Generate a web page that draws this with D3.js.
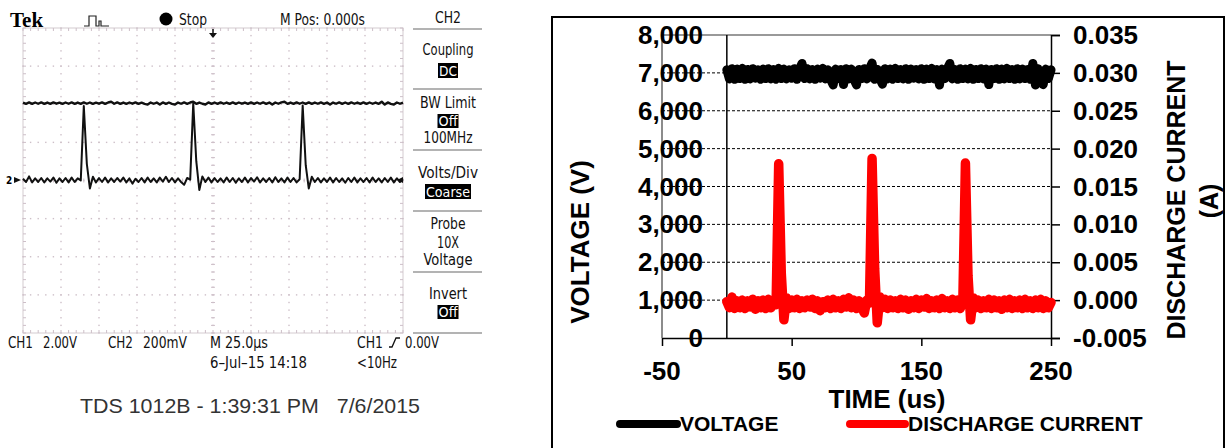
<!DOCTYPE html>
<html><head><meta charset="utf-8">
<script src="https://cdn.jsdelivr.net/npm/d3@7"></script>
<style>
html,body{margin:0;padding:0;background:#fff;}
svg{display:block;}
</style></head><body>
<svg id="c" width="1228" height="448"></svg>
<script>
// ---------------- DATA ----------------
const timeUs = d3.range(0, 251, 2); // sample times (us)
const voltage = [7080,6840,7110,6830,7100,6850,7120,6830,7090,6840,7110,6860,7080,6830,7100,6850,7110,6840,7090,6830,
7120,6850,7100,6840,7080,6860,7110,6830,7100,7250,6850,7110,6840,7090,6830,7100,6860,7120,6840,7080,
6830,6680,7100,6850,7090,6690,7110,6840,7100,6830,6680,7090,6850,7110,6840,7100,7260,6830,7090,6850,
6700,7110,6840,7100,6830,7120,6850,7090,6840,7110,6830,7100,6860,7090,6840,7110,6830,7100,6850,7120,
6840,7090,6680,7100,6850,7110,7250,6840,7090,6830,7110,6850,7100,6840,7120,6830,7090,6850,7110,6840,
7100,6690,7090,6850,7110,6830,7100,6840,7120,6850,7090,6830,7110,6840,7100,6850,7090,6830,7250,6680,
7110,6840,6690,7100,6850,7080];
const current = [-0.0002,-0.0010,0.0004,-0.0011,-0.0001,-0.0010,0.0000,-0.0011,-0.0001,-0.0009,
0.0001,-0.0012,-0.0001,-0.0010,0.0000,-0.0011,0.0001,-0.0010,-0.0001,-0.0006,
0.0180,0.0035,-0.0026,0.0003,-0.0011,0.0000,-0.0010,0.0001,-0.0011,-0.0001,
-0.0010,0.0000,-0.0009,0.0001,-0.0011,-0.0001,-0.0014,-0.0002,-0.0010,0.0000,
-0.0011,0.0001,-0.0010,-0.0001,-0.0011,0.0001,-0.0009,0.0003,-0.0010,0.0000,
-0.0011,-0.0001,-0.0010,-0.0017,0.0000,-0.0004,0.0187,0.0042,-0.0030,0.0004,
-0.0010,0.0001,-0.0011,0.0000,-0.0010,-0.0001,-0.0011,0.0001,-0.0010,0.0000,
-0.0012,-0.0001,-0.0010,0.0001,-0.0011,0.0000,-0.0009,0.0002,-0.0011,-0.0001,
-0.0010,0.0000,-0.0011,0.0002,-0.0010,-0.0001,-0.0011,0.0001,-0.0010,0.0000,
-0.0011,-0.0003,0.0181,0.0032,-0.0026,0.0003,-0.0010,0.0000,-0.0011,-0.0001,
-0.0010,0.0001,-0.0011,0.0000,-0.0010,-0.0001,-0.0012,0.0000,-0.0010,0.0001,
-0.0011,-0.0001,-0.0010,0.0000,-0.0011,0.0001,-0.0010,-0.0001,-0.0011,0.0000,
-0.0010,0.0001,-0.0011,-0.0001,-0.0010,-0.0003];
const voltageTicks = [0,1000,2000,3000,4000,5000,6000,7000,8000];
const voltageTickLabels = ["0","1,000","2,000","3,000","4,000","5,000","6,000","7,000","8,000"];
const currentTicks = [-0.005,0,0.005,0.010,0.015,0.020,0.025,0.030,0.035];
const currentTickLabels = ["-0.005","0.000","0.005","0.010","0.015","0.020","0.025","0.030","0.035"];
const timeTicks = [-50,50,150,250];
const timeTickLabels = ["-50","50","150","250"];
const seriesNames = ["VOLTAGE","DISCHARGE CURRENT"];
const seriesColors = ["#000000","#ff0000"];

// ---------------- DRAW ----------------
const svg = d3.select("#c");
const pts = vals => vals.map((v,i)=>[timeUs[i], v]);

// ===== Oscilloscope panel =====
const scope = svg.append("g");
const sx = d3.scaleLinear().domain([0,250]).range([23,403]);
const sDiv = d3.scaleLinear().domain([0,8]).range([28,333]);
const sCh1 = d3.scaleLinear().domain([6000,8000]).range([108,98]);
const sCh2 = d3.scaleLinear().domain([-0.0005,0.0185]).range([180,104]);
const gridCol = "#cdbfc8";
const narrow = "'Liberation Sans Narrow','DejaVu Sans Condensed','Liberation Sans',Arial,sans-serif";

scope.append("rect").attr("x",23).attr("y",28).attr("width",380).attr("height",305)
  .attr("fill","none").attr("stroke","#d4cbd0").attr("stroke-width",1);
const dots=[];
for(let k=1;k<10;k++){ for(let j=0;j<=40;j++) dots.push([sx(k*25), sDiv(j/5)]); }
for(let m=1;m<8;m++){ for(let j=0;j<=50;j++) dots.push([sx(j*5), sDiv(m)]); }
scope.append("g").selectAll("rect").data(dots).join("rect")
  .attr("x",d=>d[0]-0.7).attr("y",d=>d[1]-0.7).attr("width",1.4).attr("height",1.4).attr("fill",gridCol);
const ticks=[];
for(let j=0;j<=40;j++){ const y=sDiv(j/5); ticks.push([sx(125)-2,y,sx(125)+2,y],[23,y,26,y],[400,y,403,y]); }
for(let j=0;j<=50;j++){ const x=sx(j*5); ticks.push([x,sDiv(4)-2,x,sDiv(4)+2],[x,28,x,31],[x,330,x,333]); }
scope.append("g").selectAll("line").data(ticks).join("line")
  .attr("x1",d=>d[0]).attr("y1",d=>d[1]).attr("x2",d=>d[2]).attr("y2",d=>d[3])
  .attr("stroke",gridCol).attr("stroke-width",1);

scope.append("path").datum(pts(voltage))
  .attr("d", d3.line().x(d=>sx(d[0])).y(d=>sCh1(d[1])))
  .attr("fill","none").attr("stroke","#111").attr("stroke-width",2.4).attr("stroke-linejoin","round");
scope.append("path").datum(pts(current))
  .attr("d", d3.line().x(d=>sx(d[0])).y(d=>sCh2(d[1])))
  .attr("fill","none").attr("stroke","#111").attr("stroke-width",2).attr("stroke-linejoin","round");

// markers
scope.append("text").attr("x",6).attr("y",184).attr("font-family",narrow).attr("font-size",10).attr("font-weight","bold").text("2");
scope.append("path").attr("d","M14,177 L21,180 L14,183 Z").attr("fill","#111");
scope.append("path").attr("d","M403,177 L397,180 L403,183 Z").attr("fill","#111");
scope.append("line").attr("x1",213).attr("x2",213).attr("y1",29).attr("y2",35).attr("stroke","#111").attr("stroke-width",1.5);
scope.append("path").attr("d","M209,33 L217,33 L213,38 Z").attr("fill","#111");

// header
scope.append("text").attr("x",10).attr("y",27).attr("font-family","'Liberation Serif','Times New Roman',serif")
  .attr("font-weight","bold").attr("font-size",21).text("Tek");
scope.append("path").attr("d","M84,26 H89 V16 H96 V26 H99 V21 H101 V26 H109")
  .attr("fill","none").attr("stroke","#222").attr("stroke-width",1.2);
scope.append("circle").attr("cx",166).attr("cy",19).attr("r",6.5).attr("fill","#000");
function stext(x,y,t,w,opt){
  const e=scope.append("text").attr("x",x).attr("y",y).attr("font-family",narrow).attr("font-size",opt&&opt.fs||15)
    .attr("fill",opt&&opt.fill||"#111").text(t);
  if(opt&&opt.anchor) e.attr("text-anchor",opt.anchor);
  if(w) e.attr("textLength",w).attr("lengthAdjust","spacingAndGlyphs");
  return e;
}
stext(179,25,"Stop",28);
stext(280,25,"M Pos: 0.000s",85);

// side menu
const mx=448;
[29,89,150,211,272,333].forEach(y=>scope.append("line").attr("x1",413).attr("x2",482).attr("y1",y).attr("y2",y).attr("stroke","#9a9a9a").attr("stroke-width",1.5));
function menuText(y,t,w){ stext(mx-w/2,y,t,w); }
function menuInv(y0,y1,t,w){
  scope.append("rect").attr("x",mx-w/2-1).attr("y",y0).attr("width",w+2).attr("height",y1-y0).attr("fill","#000");
  stext(mx-w/2,y1-2.5,t,w,{fill:"#fff",fs:14});
}
menuText(23,"CH2",26);
menuText(55,"Coupling",51);
menuInv(63,78,"DC",18);
menuText(108,"BW Limit",56);
menuInv(114,128,"Off",19);
menuText(143,"100MHz",49);
menuText(178,"Volts/Div",60);
menuInv(184,199,"Coarse",44);
menuText(229,"Probe",35);
menuText(248,"10X",22);
menuText(265,"Voltage",49);
menuText(299,"Invert",38);
menuInv(305,319,"Off",19);

// bottom status
stext(8,348,"CH1",25); stext(43,348,"2.00V",34);
stext(108,348,"CH2",25); stext(143,348,"200mV",44);
stext(210,348,"M 25.0\u00b5s",58);
stext(210,368,"6\u2013Jul\u201315 14:18",97);
stext(357,348,"CH1",26);
scope.append("path").attr("d","M389,347 H392 L396,338 H400").attr("fill","none").attr("stroke","#111").attr("stroke-width",1.3);
stext(405,348,"0.00V",34);
stext(357,368,"<10Hz",40);
scope.append("text").attr("x",80).attr("y",413).attr("font-family","'Liberation Sans',Arial,sans-serif")
  .attr("font-size",21).attr("fill","#333").style("white-space","pre")
  .attr("textLength",340).attr("lengthAdjust","spacingAndGlyphs")
  .text("TDS 1012B - 1:39:31 PM   7/6/2015");

// ===== Excel chart panel =====
const ch = svg.append("g");
const bold = "'Liberation Sans',Arial,sans-serif";
ch.append("rect").attr("x",552).attr("y",17).attr("width",672).attr("height",460)
  .attr("fill","none").attr("stroke","#000").attr("stroke-width",2);

const x = d3.scaleLinear().domain([-50,250]).range([662,1051]);
const yV = d3.scaleLinear().domain([0,8000]).range([338,35]);
const yI = d3.scaleLinear().domain([-0.005,0.035]).range([338,35]);

// gridlines
ch.append("g").selectAll("line").data(voltageTicks.filter(v=>v>0 && v<8000)).join("line")
  .attr("x1",x(-50)).attr("x2",x(250)).attr("y1",d=>yV(d)).attr("y2",d=>yV(d))
  .attr("stroke","#000").attr("stroke-width",1).attr("stroke-dasharray","3,2");
ch.append("line").attr("x1",x(-50)).attr("x2",x(250)).attr("y1",yV(8000)).attr("y2",yV(8000))
  .attr("stroke","#777").attr("stroke-width",1.5);
ch.append("line").attr("x1",x(-50)).attr("x2",x(-50)).attr("y1",yV(8000)).attr("y2",yV(0))
  .attr("stroke","#666").attr("stroke-width",1.5);
// left value axis at t=0
ch.append("line").attr("x1",x(0)).attr("x2",x(0)).attr("y1",yV(8000)).attr("y2",yV(0))
  .attr("stroke","#000").attr("stroke-width",1.5);
// right axis
const rAxis = d3.axisRight(yI).tickValues(currentTicks).tickSize(9).tickFormat("");
ch.append("g").attr("transform",`translate(${x(250)},0)`).call(rAxis)
  .call(g=>{g.select(".domain").attr("stroke","#000").attr("stroke-width",1.5);g.selectAll(".tick line").attr("stroke","#000").attr("stroke-width",1.5);});
// x axis
const xAxis = d3.axisBottom(x).tickValues(timeTicks).tickSize(8).tickFormat("").tickSizeOuter(0);
ch.append("g").attr("transform",`translate(0,${yV(0)})`).call(xAxis)
  .call(g=>{g.select(".domain").attr("stroke","#000").attr("stroke-width",1.5);g.selectAll(".tick line").attr("stroke","#000").attr("stroke-width",1.5);});

// tick labels
ch.append("g").selectAll("text").data(voltageTicks).join("text")
  .attr("x",703).attr("y",d=>yV(d)).attr("text-anchor","end").attr("dominant-baseline","central")
  .attr("font-family",bold).attr("font-weight","bold").attr("font-size",26).text((d,i)=>voltageTickLabels[i]);
ch.append("g").selectAll("text").data(currentTicks).join("text")
  .attr("x",1073).attr("y",d=>yI(d)).attr("dominant-baseline","central")
  .attr("font-family",bold).attr("font-weight","bold").attr("font-size",26).text((d,i)=>currentTickLabels[i]);
ch.append("g").selectAll("text").data(timeTicks).join("text")
  .attr("x",d=>x(d)).attr("y",371).attr("text-anchor","middle").attr("dominant-baseline","central")
  .attr("font-family",bold).attr("font-weight","bold").attr("font-size",26).text((d,i)=>timeTickLabels[i]);

// titles
ch.append("text").attr("x",887).attr("y",408).attr("text-anchor","middle")
  .attr("font-family",bold).attr("font-weight","bold").attr("font-size",26).text("TIME (us)");
ch.append("text").attr("transform","translate(580,242) rotate(-90)").attr("text-anchor","middle").attr("dominant-baseline","central")
  .attr("font-family",bold).attr("font-weight","bold").attr("font-size",26).text("VOLTAGE (V)");
ch.append("text").attr("transform","translate(1176,200) rotate(-90)").attr("text-anchor","middle").attr("dominant-baseline","central")
  .attr("font-family",bold).attr("font-weight","bold").attr("font-size",25).text("DISCHARGE CURRENT");
ch.append("text").attr("transform","translate(1209,201) rotate(-90)").attr("text-anchor","middle").attr("dominant-baseline","central")
  .attr("font-family",bold).attr("font-weight","bold").attr("font-size",25).text("(A)");

// series
ch.append("path").datum(pts(voltage))
  .attr("d", d3.line().x(d=>x(d[0])).y(d=>yV(d[1])))
  .attr("fill","none").attr("stroke",seriesColors[0]).attr("stroke-width",9)
  .attr("stroke-linejoin","round").attr("stroke-linecap","round");
ch.append("path").datum(pts(current))
  .attr("d", d3.line().x(d=>x(d[0])).y(d=>yI(d[1])))
  .attr("fill","none").attr("stroke",seriesColors[1]).attr("stroke-width",9.5)
  .attr("stroke-linejoin","round").attr("stroke-linecap","round");

// legend
const leg = [{x0:620,x1:677,tx:680},{x0:850,x1:905,tx:908}];
leg.forEach((l,i)=>{
  ch.append("line").attr("x1",l.x0).attr("x2",l.x1).attr("y1",424).attr("y2",424)
    .attr("stroke",seriesColors[i]).attr("stroke-width",8).attr("stroke-linecap","round");
  ch.append("text").attr("x",l.tx).attr("y",431).attr("font-family",bold).attr("font-weight","bold")
    .attr("font-size",21).text(seriesNames[i]);
});
</script>
</body></html>
